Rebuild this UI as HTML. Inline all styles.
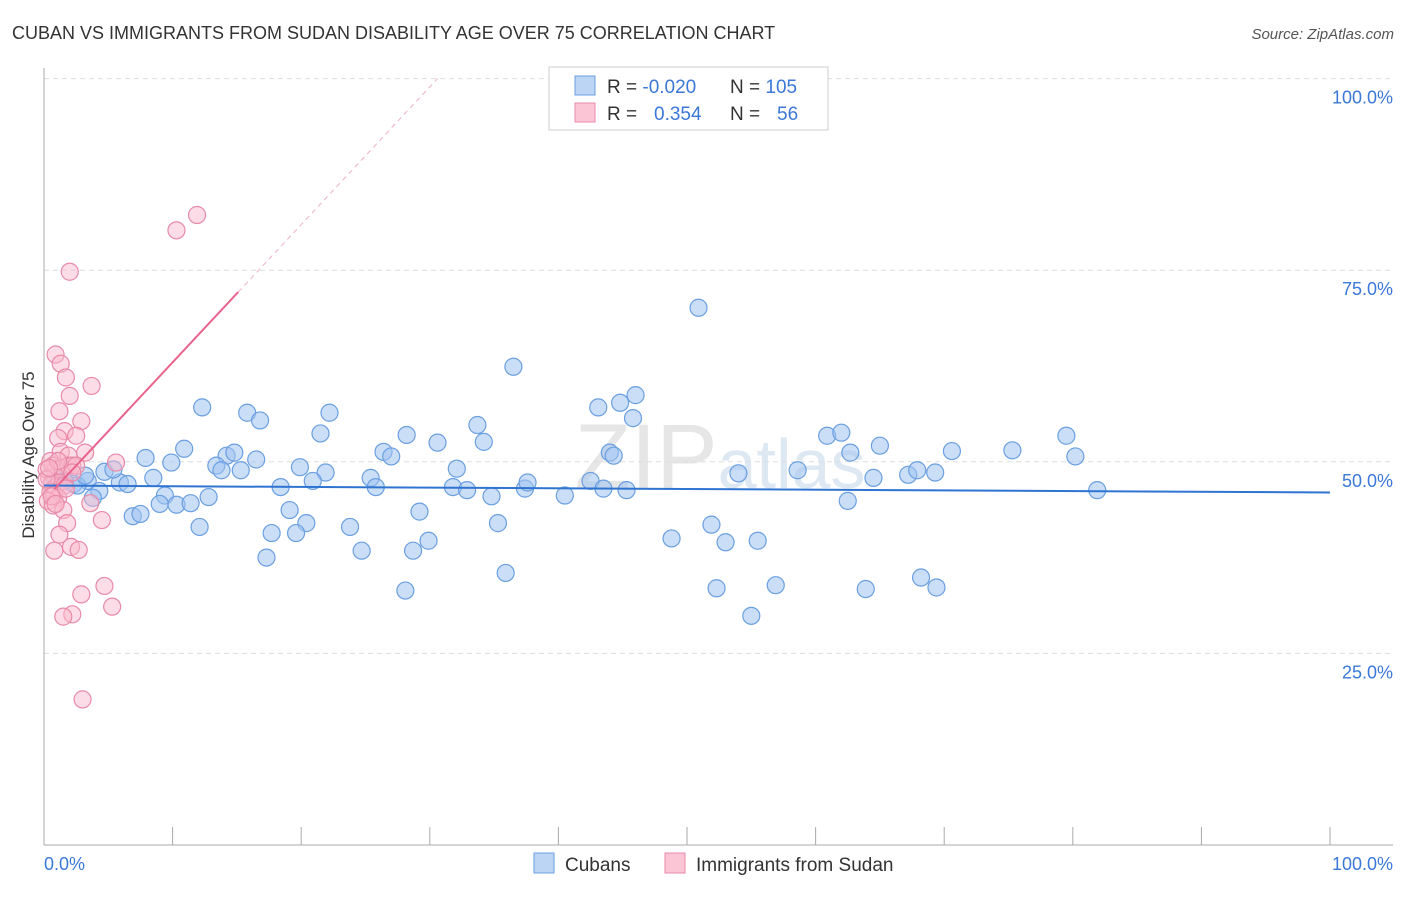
<!DOCTYPE html>
<html><head><meta charset="utf-8"><style>
body{margin:0;background:#fff;font-family:"Liberation Sans",sans-serif}
svg text{font-family:"Liberation Sans",sans-serif}
</style></head><body>
<svg id="chart" width="1406" height="892" viewBox="0 0 1406 892">
<text x="12" y="39" font-size="18" fill="#333">CUBAN VS IMMIGRANTS FROM SUDAN DISABILITY AGE OVER 75 CORRELATION CHART</text>
<text x="1394" y="39" font-size="15" fill="#555" font-style="italic" text-anchor="end">Source: ZipAtlas.com</text>
<text x="720" y="488" font-size="92" fill="#e6e6e6" text-anchor="middle" font-family="Liberation Serif">ZIP<tspan font-family="Liberation Sans" font-size="70" fill="#dde8f3">atlas</tspan></text>
<g id="grid"></g>
<line x1="44" y1="68" x2="44" y2="845" stroke="#aaa"/>
<line x1="44" y1="845" x2="1393" y2="845" stroke="#aaa"/>
<g id="xticks"></g>
<text x="34" y="455" font-size="17" fill="#333" text-anchor="middle" transform="rotate(-90 34 455)">Disability Age Over 75</text>
<text x="44" y="870" font-size="18" fill="#3b78d8">0.0%</text>
<text x="1393" y="870" font-size="18" fill="#3b78d8" text-anchor="end">100.0%</text>
<g id="pts"></g>
<g id="lines"></g>
<g>
<rect x="549" y="67" width="279" height="63" fill="#fff" stroke="#ccc"/>
<rect x="575" y="76" width="20" height="19" fill="#bcd5f5" stroke="#6a9fe0"/>
<rect x="575" y="103" width="20" height="19" fill="#fcc5d5" stroke="#e88aa8"/>
<text x="607" y="93" font-size="19" fill="#333">R = <tspan fill="#3b78d8">-0.020</tspan><tspan x="730">N = </tspan><tspan fill="#3b78d8">105</tspan></text>
<text x="607" y="120" font-size="19" fill="#333">R = <tspan x="654" fill="#3b78d8">0.354</tspan><tspan x="730">N = </tspan><tspan x="777" fill="#3b78d8">56</tspan></text>
</g>
<g>
<rect x="534" y="853" width="20" height="20" fill="#bcd5f5" stroke="#6a9fe0"/>
<text x="565" y="871" font-size="19" fill="#333">Cubans</text>
<rect x="665" y="853" width="20" height="20" fill="#fcc5d5" stroke="#e88aa8"/>
<text x="696" y="871" font-size="19" fill="#333">Immigrants from Sudan</text>
</g>
</svg>
<script>
const NS="http://www.w3.org/2000/svg";
const yTicks=[25,50,75,100];
const yTickLabels=["25.0%","50.0%","75.0%","100.0%"];
const xTicks=[0,10,20,30,40,50,60,70,80,90,100];
const cubanX=[50.9,36.5,46.0,43.1,44.8,45.8,12.3,15.8,16.8,22.2,21.5,10.9,7.9,9.9,14.2,14.8,13.4,13.8,15.3,16.5,19.9,21.9,20.9,18.4,8.5,5.9,6.5,4.7,5.4,3.4,2.3,2.6,4.3,3.8,9.4,9.0,10.3,11.4,12.8,6.9,7.5,12.1,19.1,20.4,17.7,19.6,17.3,23.8,24.7,25.4,25.8,26.4,27.0,28.2,30.6,32.1,31.8,32.9,34.8,33.7,34.2,29.2,29.9,28.7,28.1,35.3,35.9,37.4,37.6,40.5,42.5,43.5,44.0,44.3,45.3,48.8,51.9,53.0,55.5,52.3,55.0,56.9,54.0,58.6,60.9,62.0,62.7,64.5,65.0,62.5,63.9,67.2,67.9,68.2,69.4,69.3,70.6,75.3,79.5,80.2,81.9,1.6,0.8,1.1,3.2];
const cubanY=[70.1,62.4,58.7,57.1,57.7,55.7,57.1,56.4,55.4,56.4,53.7,51.7,50.5,49.9,50.8,51.2,49.5,48.9,48.9,50.3,49.3,48.6,47.5,46.7,47.9,47.3,47.1,48.7,49.0,47.5,47.1,46.9,46.2,45.3,45.6,44.5,44.4,44.6,45.4,42.9,43.2,41.5,43.7,42.0,40.7,40.7,37.5,41.5,38.4,47.9,46.7,51.3,50.7,53.5,52.5,49.1,46.7,46.3,45.5,54.8,52.6,43.5,39.7,38.4,33.2,42.0,35.5,46.5,47.3,45.6,47.5,46.5,51.2,50.8,46.3,40.0,41.8,39.5,39.7,33.5,29.9,33.9,48.5,48.9,53.4,53.8,51.2,47.9,52.1,44.9,33.4,48.3,48.9,34.9,33.6,48.6,51.4,51.5,53.4,50.7,46.3,47.5,47.9,47.3,48.2];
const sudanX=[11.9,10.3,2.0,0.9,1.3,1.7,3.7,2.0,1.2,2.9,1.6,2.5,1.1,3.2,1.3,1.9,0.5,0.7,0.9,1.4,1.9,2.2,2.5,5.6,0.4,0.6,0.9,1.2,1.6,0.5,0.8,1.1,0.3,0.7,1.5,3.6,1.8,4.5,1.2,0.8,2.1,2.7,4.7,5.3,2.9,2.2,1.5,3.0,1.7,0.2,0.2,0.6,1.1,2.2,0.4,0.9];
const sudanY=[82.2,80.2,74.8,64.0,62.8,61.0,59.9,58.6,56.6,55.3,54.0,53.4,53.1,51.2,51.3,50.8,50.1,49.5,49.0,49.2,49.5,49.5,49.5,49.9,47.9,47.1,46.7,47.3,46.9,46.1,45.7,45.3,44.9,44.3,43.7,44.6,42.0,42.4,40.5,38.4,38.9,38.5,33.8,31.1,32.7,30.1,29.8,19.0,46.5,49.0,47.7,45.5,50.1,48.6,49.2,44.5];
const blueTrend=[46.9,46.0];
const pinkTrend=[45.0,100.0];
const pinkSolidEnd=15.1, pinkDashEnd=30.6;
const X=v=>44+v*12.86, Y=v=>845-v*7.664;
function mk(t,a,p){const e=document.createElementNS(NS,t);for(const k in a)e.setAttribute(k,a[k]);p.appendChild(e);return e;}
const grid=document.getElementById('grid');
yTicks.forEach((t,i)=>{
 const l=mk('line',{x1:44,x2:1393,y1:Y(t),y2:Y(t),stroke:'#ddd','stroke-dasharray':'5,4'},grid);
 
 
 const tx=mk('text',{x:1393,y:Y(t)+25,'font-size':18,fill:'#3b78d8','text-anchor':'end'},grid);
 tx.textContent=yTickLabels[i];
 
 
});
const xt=document.getElementById('xticks');
xTicks.forEach(t=>{
 const l=mk('line',{x1:X(t),x2:X(t),y1:827,y2:845,stroke:'#aaa'},xt);
 
 
});
const pts=document.getElementById('pts');
cubanX.forEach((v,i)=>{
 const c=mk('circle',{cx:X(v),cy:Y(cubanY[i]),r:8.5,fill:'rgba(160,195,240,0.55)',stroke:'#6a9fe0','stroke-width':1.2},pts);
 
 
});
sudanX.forEach((v,i)=>{
 const c=mk('circle',{cx:X(v),cy:Y(sudanY[i]),r:8.5,fill:'rgba(250,185,205,0.5)',stroke:'#e88aa8','stroke-width':1.2},pts);
 
 
});
const ln=document.getElementById('lines');
const bl=mk('line',{x1:X(0),y1:Y(blueTrend[0]),x2:X(100),y2:Y(blueTrend[1]),stroke:'#2f74d0','stroke-width':2},ln);


const py=v=>pinkTrend[0]+(pinkTrend[1]-pinkTrend[0])*v/pinkDashEnd;
const pl=mk('line',{x1:X(0.8),y1:Y(py(0.8)),x2:X(pinkSolidEnd),y2:Y(py(pinkSolidEnd)),stroke:'#e8648c','stroke-width':2},ln);


const pd=mk('line',{x1:X(pinkSolidEnd),y1:Y(py(pinkSolidEnd)),x2:X(pinkDashEnd),y2:Y(py(pinkDashEnd)),stroke:'#f0b0c4','stroke-width':1,'stroke-dasharray':'5,4'},ln);


</script>
</body></html>
